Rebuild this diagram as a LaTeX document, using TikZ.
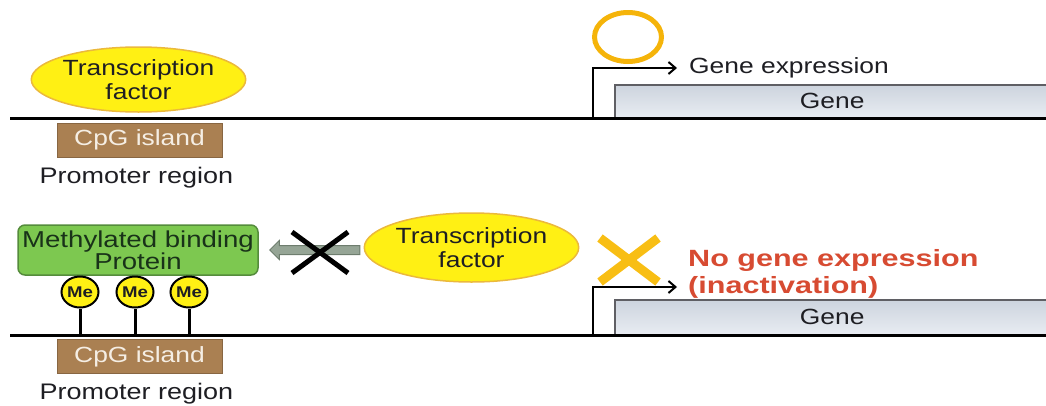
\documentclass[tikz,border=0pt]{standalone}
\usepackage{fontspec}
\setmainfont{Liberation Sans}[FakeStretch=1.2]
\newfontfamily\redfont{Liberation Sans}[FakeStretch=1.3]
\usetikzlibrary{arrows.meta,shapes.geometric,shapes.arrows}
\definecolor{tfyellow}{RGB}{255,240,20}
\definecolor{tfborder}{RGB}{235,185,60}
\definecolor{cpgbrown}{RGB}{170,128,82}
\definecolor{cpgtext}{RGB}{245,238,228}
\definecolor{mbpgreen}{RGB}{125,200,80}
\definecolor{mbpborder}{RGB}{85,140,60}
\definecolor{mbptext}{RGB}{25,50,25}
\definecolor{orangeX}{RGB}{248,190,20}
\definecolor{orangeO}{RGB}{245,180,10}
\definecolor{redtext}{RGB}{215,75,50}
\definecolor{genetop}{RGB}{205,212,222}
\definecolor{genebot}{RGB}{232,236,242}
\definecolor{geneborder}{RGB}{95,95,100}
\definecolor{arrowgray}{RGB}{150,165,150}
\definecolor{arrowedge}{RGB}{110,125,110}
\definecolor{txt}{RGB}{30,30,35}
\begin{document}
\begin{tikzpicture}[x=1pt,y=-1pt,
  tf/.style={ellipse, draw=tfborder, line width=1.5pt, fill=tfyellow, align=center,
    inner sep=0pt, text=txt, font=\fontsize{22}{24}\selectfont},
  cpg/.style={rectangle, fill=cpgbrown, draw=cpgbrown!80!black, line width=0.6pt,
    minimum width=165pt, minimum height=34pt, inner sep=0pt, text=cpgtext,
    font=\fontsize{22}{24}\selectfont},
  promo/.style={text=txt, inner sep=0pt, font=\fontsize{22.5}{24}\selectfont},
  genebox/.style={rectangle, top color=genetop, bottom color=genebot, minimum width=440pt, minimum height=32pt,
    inner sep=0pt, text=txt, font=\fontsize{22}{24}\selectfont},
  dna/.style={line width=3pt, black},
  bent/.style={line width=2pt, black, -{Straight Barb[length=7pt,width=12pt,line width=2pt]}},
  meball/.style={ellipse, draw=black, line width=2pt, fill=tfyellow, minimum width=37pt,
    minimum height=31pt, inner sep=0pt, text=txt, font=\fontsize{15.5}{16}\selectfont\bfseries},
  stem/.style={line width=3pt, black},
]
\useasboundingbox (0,0) rectangle (1046,405);

% ---------- top panel ----------
\coordinate (t1) at (10,118);
\coordinate (t2) at (1050,118);
\node[genebox, anchor=north west] (gene1) at (615,85) {\hspace*{-6pt}Gene};
\draw[geneborder, line width=1.5pt] (gene1.south west) -- (gene1.north west) -- (gene1.north east);
\draw[dna] (t1) -- (t2);
\node[tf, minimum width=207pt, minimum height=65pt] (tf1) at (138.5,79.5) {Transcription\\factor};
\node[cpg] (cpg1) at (139.5,140) {CpG island};
\node[promo] (pr1) at (136.5,178) {Promoter region};
\node[ellipse, draw=orangeO, line width=5pt, minimum width=67pt, minimum height=49pt] (circ) at (628,37) {};
\coordinate (b1) at (593,118);
\coordinate (b1t) at (593,68);
\coordinate (b1e) at (677,68);
\draw[bent] (b1) -- (b1t) -- (b1e);
\node[anchor=west, text=txt, inner sep=0pt, font=\fontsize{22}{24}\selectfont] (ge) at (689,68) {Gene expression};

% ---------- bottom panel ----------
\coordinate (u1) at (10,335);
\coordinate (u2) at (1050,335);
\node[genebox, anchor=north west, minimum height=34pt] (gene2) at (615,300) {\hspace*{-6pt}Gene};
\draw[geneborder, line width=1.5pt] (gene2.south west) -- (gene2.north west) -- (gene2.north east);
\node[rectangle, rounded corners=7pt, fill=mbpgreen, draw=mbpborder, line width=1.5pt,
  minimum width=240pt, minimum height=50pt, align=center, inner sep=0pt, text=mbptext,
  font=\fontsize{23}{22}\selectfont] (mbp) at (138,250) {Methylated binding\\Protein};
\node[meball] (me1) at (80,292) {Me};
\node[meball] (me2) at (135,292) {Me};
\node[meball] (me3) at (189,292) {Me};
\coordinate (s1) at (me1.south |- u1);
\coordinate (s2) at (me2.south |- u1);
\coordinate (s3) at (me3.south |- u1);
\draw[stem] (me1.south) -- (s1);
\draw[stem] (me2.south) -- (s2);
\draw[stem] (me3.south) -- (s3);
\draw[dna] (u1) -- (u2);
\node[cpg] (cpg2) at (139.5,356.5) {CpG island};
\node[promo] (pr2) at (136.5,394) {Promoter region};

\node[single arrow, shape border rotate=180, fill=arrowgray, draw=arrowedge, line width=1pt,
  minimum height=90pt, minimum width=19pt, single arrow head extend=5pt,
  single arrow tip angle=90, inner sep=4pt] (garrow) at (317,250) {};
\coordinate (bx) at (320,252.5);
\draw[black, line width=5pt] ([shift={(-28,-20.5)}]bx) -- ([shift={(28,20.5)}]bx);
\draw[black, line width=5pt] ([shift={(-28,20.5)}]bx) -- ([shift={(28,-20.5)}]bx);

\node[tf, minimum width=203pt, minimum height=69pt] (tf2) at (471.5,247.5) {Transcription\\factor};

\coordinate (ox) at (629,260);
\draw[orangeX, line width=9pt] ([shift={(-29,-22)}]ox) -- ([shift={(29,22)}]ox);
\draw[orangeX, line width=9pt] ([shift={(-29,22)}]ox) -- ([shift={(29,-22)}]ox);

\coordinate (b2) at (593,335);
\coordinate (b2t) at (593,287);
\coordinate (b2e) at (677,287);
\draw[bent] (b2) -- (b2t) -- (b2e);
\node[anchor=west, align=left, text=redtext, inner sep=0pt,
  font=\redfont\fontsize{23.5}{27}\selectfont\bfseries] (noexp) at (688,273.5) {No gene expression\\(inactivation)};
\end{tikzpicture}
\end{document}
